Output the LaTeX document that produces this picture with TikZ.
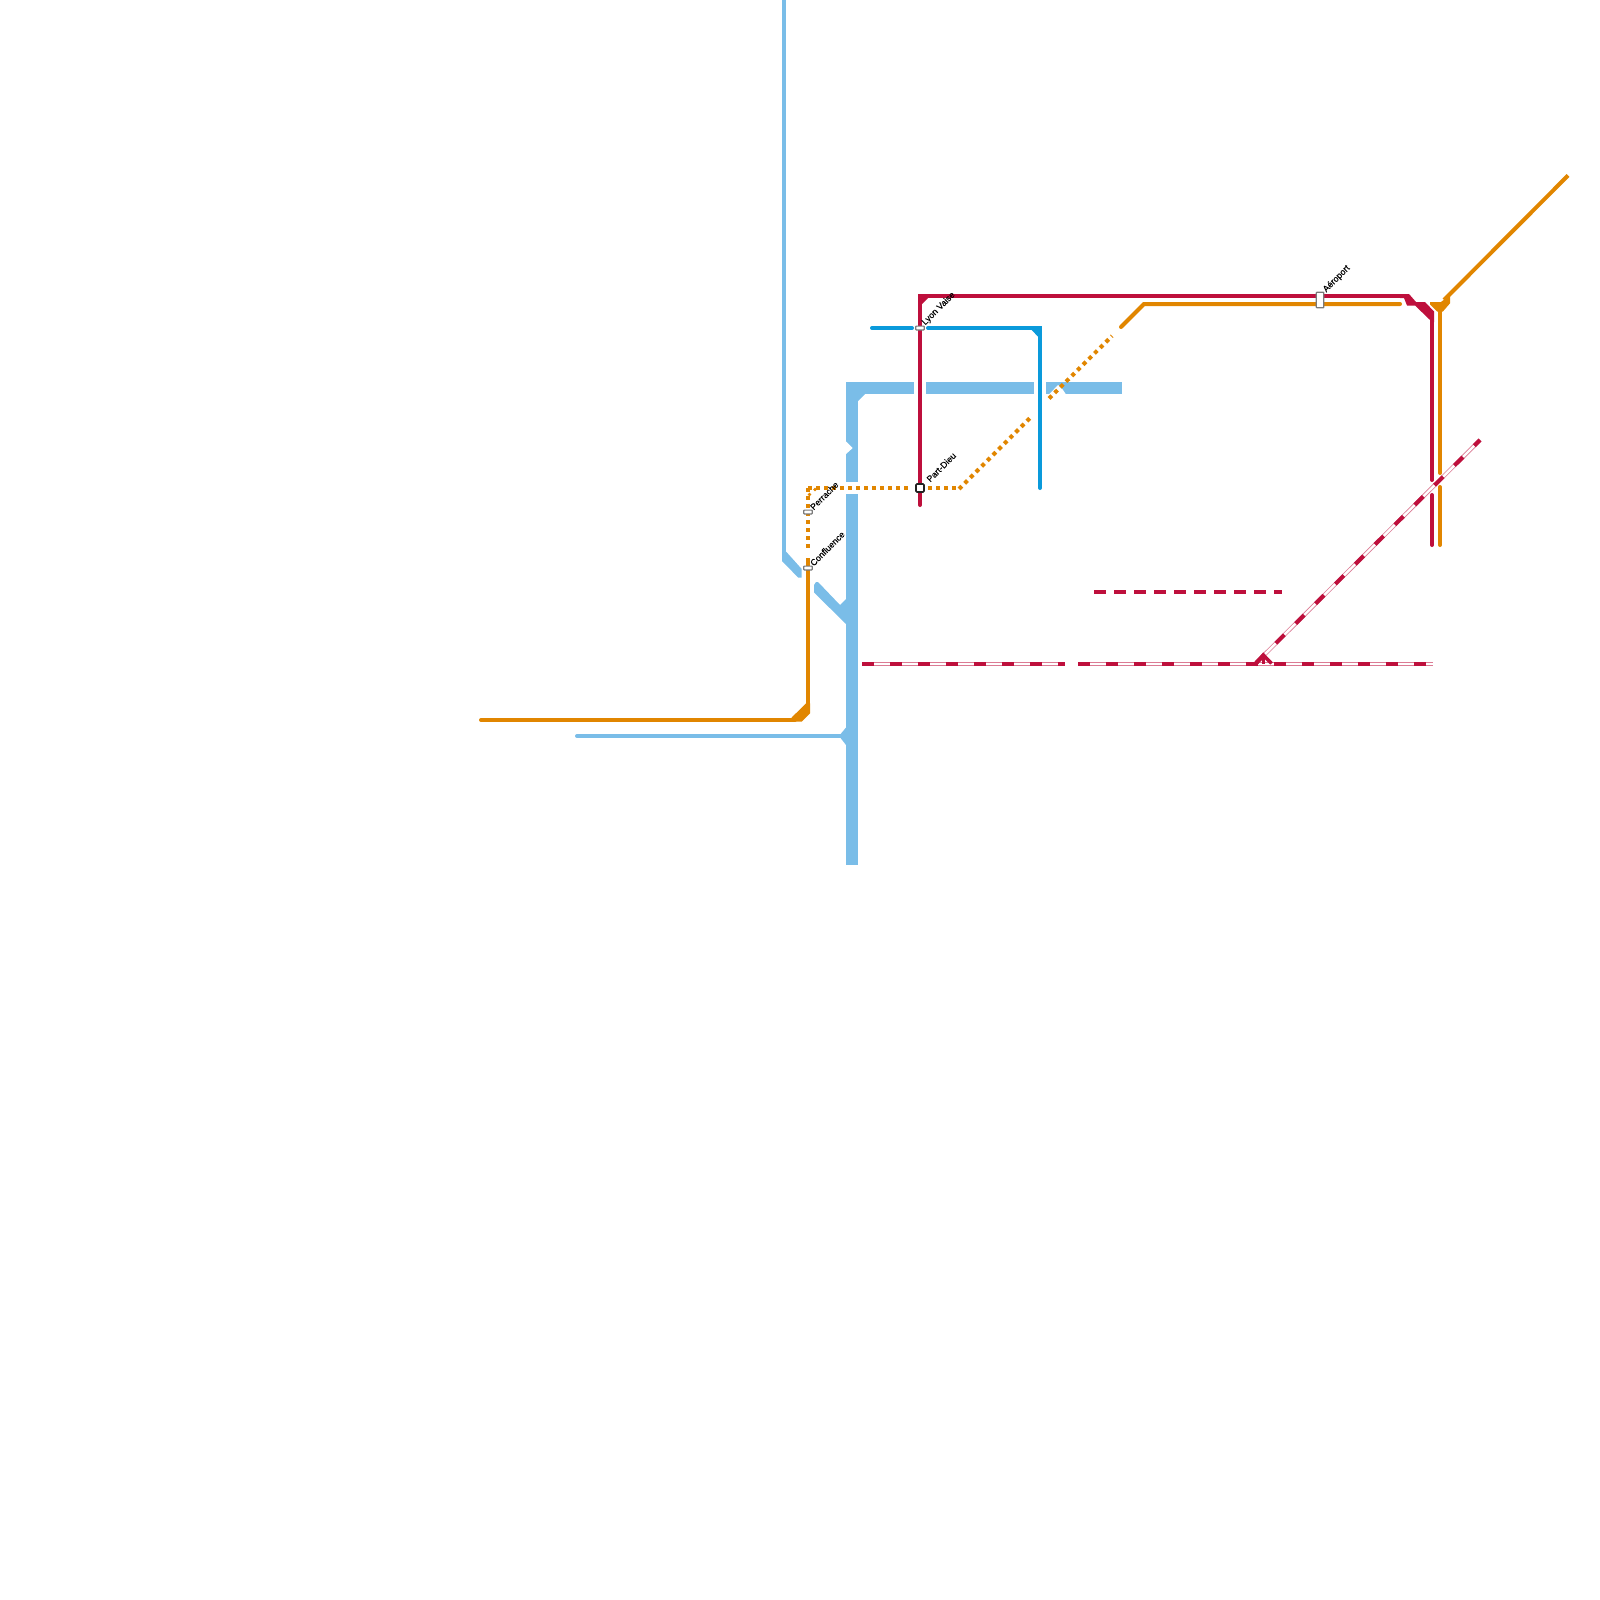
\documentclass[tikz,border=0pt]{standalone}
\usepackage{fontspec}
\setmainfont{Liberation Sans}
\newfontfamily\stopfont[FakeBold=0.25]{Liberation Sans}
\usepackage{xcolor}
\definecolor{sky}{HTML}{7ABDE8}
\definecolor{metro}{HTML}{0A9ADB}
\definecolor{tram}{HTML}{BE0F3C}
\definecolor{amber}{HTML}{E18600}
\definecolor{halt}{HTML}{7A7A7A}
\definecolor{hub}{HTML}{222222}

\begin{document}
\begin{tikzpicture}[x=1pt,y=-1pt,
    lineway/.style={line width=4pt},
    roundway/.style={line width=4pt,line cap=round},
    thickway/.style={line width=12pt},
    dotway/.style={line width=4pt,dash pattern=on 4pt off 4pt},
    dashway/.style={line width=4pt,dash pattern=on 12pt off 16pt},
    railbed/.style={line width=4pt,tram!55},
    railgap/.style={line width=2.4pt,white},
    haltstop/.style={draw=halt,fill=white,line width=1.2pt,rounded corners=0.6pt,inner sep=0pt,minimum width=8.4pt,minimum height=3.8pt},
    hubstop/.style={draw=hub,fill=white,line width=1.6pt,rounded corners=1pt,inner sep=0pt,minimum width=8pt,minimum height=8pt},
    stoplabel/.style={font=\stopfont\fontsize{8.8}{9}\selectfont,rotate=45,anchor=west,inner sep=0pt,text=black}]
    \useasboundingbox (0,0) rectangle (1600,1600);
    % wide band and its branches
    \draw[sky,thickway] (852,382) -- (852,482);
    \draw[sky,thickway] (852,494) -- (852,865);
    \draw[sky,thickway] (846,388) -- (914,388);
    \draw[sky,thickway] (926,388) -- (1034,388);
    \draw[sky,thickway] (1046,388) -- (1122,388);
    \fill[sky] (858,394) -- (865,394) -- (858,401) -- cycle;
    \fill[white] (846,441.5) -- (852.7,448) -- (846,454) -- cycle;
    \fill[white] (1049,394.5) -- (1058,385) -- (1063,390) -- (1066,394.5) -- cycle;
    \draw[sky,lineway] (784,0) -- (784,553);
    \fill[sky] (782,553) -- (786,551.5) -- (801.7,569) -- (801.7,577.7) -- (798.3,577.7) -- (782,561) -- cycle;
    \fill[sky] (814,585) -- (816,582) -- (818,582) -- (840,605) -- (846,599) -- (846,624) -- (814,592.5) -- cycle;
    \draw[sky,roundway] (577,736) -- (846,736);
    \fill[sky] (839,736) -- (846,727.5) -- (846,745) -- cycle;
    % metro
    \draw[metro,roundway] (872,328) -- (912,328);
    \draw[metro,roundway] (928,328) -- (1040,328) -- (1040,488);
    \fill[metro] (1031.7,330) -- (1038,330) -- (1038,336.7) -- cycle;
    % amber line
    \draw[amber,roundway] (481,720) -- (795,720);
    \fill[amber] (810,713.3) -- (801.7,721.7) -- (791.7,721.7) -- (791.7,717.5) -- (806,703.3) -- (810,703.3) -- cycle;
    \draw[amber,lineway] (808,558) -- (808,704);
    \draw[amber,dotway] (808,488) -- (808,548);
    \draw[amber,dotway] (808,488) -- (908,488);
    \draw[amber,dotway] (928,488) -- (958,488);
    \draw[amber,dotway] (959,489) -- (1030,418);
    \draw[amber,dotway] (1049,398.5) -- (1112,336);
    \foreach \p in {(809.5,494.5),(815,489.5)} \fill[amber] \p circle(1.8);
    \draw[amber,roundway] (1121,327) -- (1144,304) -- (1400,304);
    \fill[amber] (1430,302) -- (1441,302) -- (1450,295) -- (1450,303.3) -- (1442.7,311.7) -- (1437.3,311.7) -- (1430,304.5) -- cycle;
    \draw[amber,lineway] (1444,300) -- (1568,175.5);
    \draw[amber,roundway] (1440,310) -- (1440,473);
    \draw[amber,roundway] (1440,487) -- (1440,545);
    % red line
    \draw[tram,roundway] (920,505) -- (920,296) -- (1400,296);
    \fill[tram] (922,298) -- (928,298) -- (922,304) -- cycle;
    \fill[tram] (1400,294) -- (1409,294) -- (1416,302) -- (1425,302) -- (1434,311.5) -- (1434,322) -- (1430,322) -- (1430,320) -- (1415,305.5) -- (1407,305.5) -- (1404,298) -- (1400,298) -- cycle;
    \draw[tram,roundway] (1432,320) -- (1432,480);
    \draw[tram,roundway] (1432,495) -- (1432,545);
    % dashed red runs
    \foreach \a/\b in {862/1065,1078/1433} {
      \draw[railbed] (\a,664) -- (\b,664);
      \draw[railgap] (\a,664) -- (\b,664);
      \draw[tram,dashway] (\a,664) -- (\b,664);
    }
    \draw[railbed] (1256,663) -- (1480,440);
    \draw[railgap] (1256,663) -- (1480,440);
    \draw[tram,dashway] (1256,663) -- (1480,440);
    \draw[tram,line width=3.5pt] (1255,665) -- (1263.3,655) -- (1271.5,663.5);
    \draw[tram,line width=3pt] (1263.3,655) -- (1263.3,664);
    \draw[tram,lineway,dash pattern=on 12pt off 8pt] (1094,592) -- (1282,592);
    % stops
    \node[haltstop] (vaise) at (920,328) {};
    \node[haltstop] (perrache) at (808,512) {};
    \node[haltstop] (confluence) at (808,568) {};
    \node[hubstop] (dieu) at (920,488) {};
    \node[haltstop,minimum width=7.6pt,minimum height=15.4pt] (airport) at (1320,300) {};
    \node[stoplabel] (vaisetext) at (923.5,324) {Lyon Vaise};
    \node[stoplabel] (perrachetext) at (811.5,508.5) {Perrache};
    \node[stoplabel] (confluencetext) at (811.5,564.5) {Confluence};
    \node[stoplabel] (dieutext) at (928,480.5) {Part-Dieu};
    \node[stoplabel] (airporttext) at (1324.5,291) {Aéroport};
\end{tikzpicture}
\end{document}
